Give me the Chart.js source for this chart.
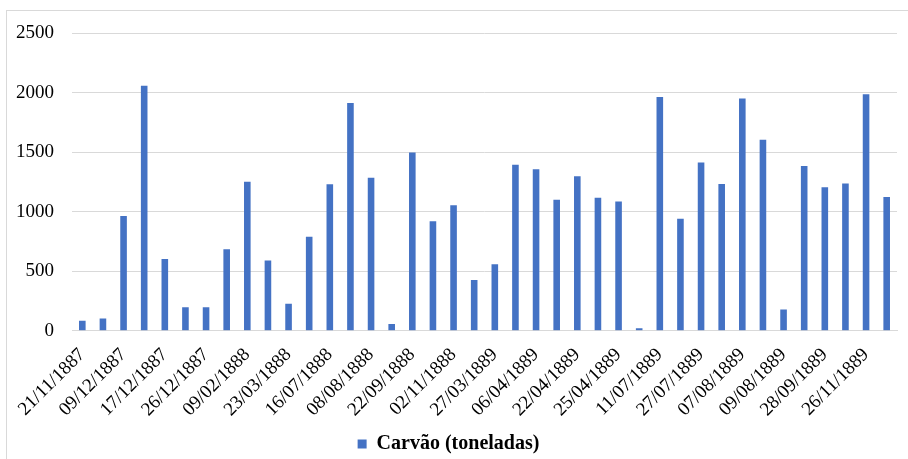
<!DOCTYPE html>
<html><head><meta charset="utf-8">
<script src="https://cdn.jsdelivr.net/npm/chart.js@4"></script>
<style>html,body{margin:0;padding:0;background:#fff;}#wrap{position:absolute;left:0;top:0;width:908px;height:459px;}</style>
</head><body><div id="wrap"><canvas id="c" width="908" height="459"></canvas></div>
<script>
const tickLabels = ['21/11/1887','09/12/1887','17/12/1887','26/12/1887','09/02/1888','23/03/1888','16/07/1888','08/08/1888','22/09/1888','02/11/1888','27/03/1889','06/04/1889','22/04/1889','25/04/1889','11/07/1889','27/07/1889','07/08/1889','09/08/1889','28/09/1889','26/11/1889'];
// 40 categories; only every other one carries a visible label
const categories = tickLabels.flatMap(d => [d, '']);
const seriesName = 'Carvão (toneladas)';
const carvao = [84,103,964,2056,603,196,196,684,1251,589,226,790,1229,1913,1285,56,1497,919,1053,425,559,1394,1355,1100,1296,1117,1086,20,1963,941,1413,1232,1950,1603,179,1383,1204,1237,1986,1123];
const yTicks = [0,500,1000,1500,2000,2500];

const FONT = "'Liberation Serif','Times New Roman',serif";
const borderPlugin = {
  id:'border',
  beforeDraw(chart){
    const ctx = chart.ctx;
    ctx.save();
    ctx.fillStyle='#fff';
    ctx.fillRect(0,0,chart.width,chart.height);
    ctx.strokeStyle='#d9d9d9';
    ctx.lineWidth=1;
    ctx.strokeRect(6.5,10.5,chart.width,chart.height);
    ctx.restore();
  }
};
new Chart(document.getElementById('c'), {
  type:'bar',
  data:{labels:categories, datasets:[{label:seriesName, data:carvao, backgroundColor:'#4472C4', borderWidth:0, barPercentage:0.32, categoryPercentage:1}]},
  plugins:[borderPlugin],
  options:{
    responsive:false, animation:false, devicePixelRatio:1,
    layout:{padding:{left:0,right:11,top:33,bottom:-5}},
    plugins:{
      tooltip:{enabled:false},
      legend:{position:'bottom', labels:{color:'#000', font:{family:FONT,size:20,weight:'bold'}, boxWidth:9, boxHeight:9, padding:2}}
    },
    scales:{
      x:{
        grid:{display:false, drawTicks:false},
        border:{display:true,color:'#d9d9d9',width:1},
        ticks:{autoSkip:false, minRotation:45, maxRotation:45, padding:13, color:'#000', font:{family:FONT,size:19}},
        afterFit(s){ s.height = 101.3; s.paddingRight = 0; s.paddingLeft = 0; }
      },
      y:{
        min:0,max:2500,
        afterBuildTicks(s){ s.ticks = yTicks.map(v=>({value:v})); },
        grid:{color:'#d9d9d9', drawTicks:false},
        border:{display:false},
        ticks:{padding:18, color:'#000', font:{family:FONT,size:19}, callback:(v)=>String(v)},
        afterFit(s){ s.width = 72; }
      }
    }
  }
});
</script></body></html>
